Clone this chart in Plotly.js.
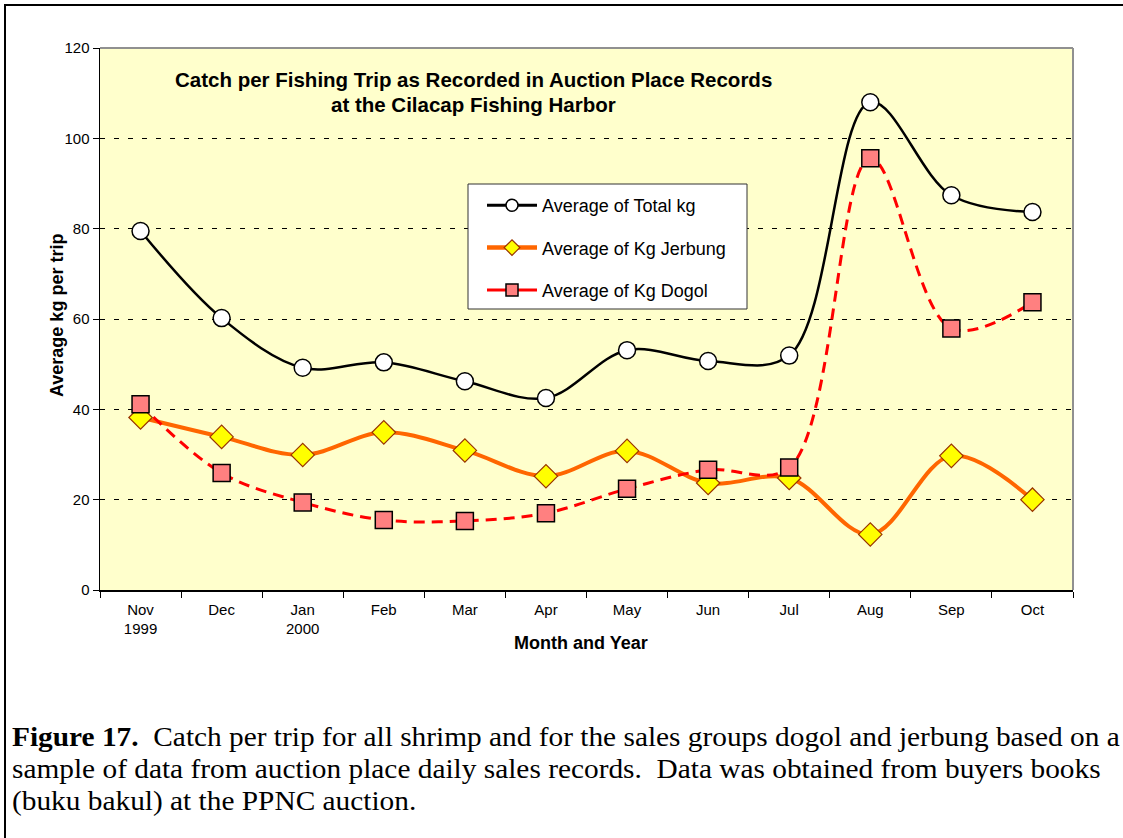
<!DOCTYPE html>
<html>
<head>
<meta charset="utf-8">
<script src="https://cdn.plot.ly/plotly-3.0.1.min.js"></script>
<style>
  html, body { margin: 0; padding: 0; background: #fff; }
  #wrap { position: relative; width: 1123px; height: 838px; overflow: hidden; }
  #frame { position: absolute; left: 4px; top: 4px; width: 1130px; height: 900px;
           border-top: 2px solid #000; border-left: 2px solid #000; pointer-events: none; }
  #chart { position: absolute; left: 0; top: 0; width: 1123px; height: 838px; }
  #caption { position: absolute; left: 12px; top: 721px; width: 1060px;
             font-family: "Liberation Serif", "Times New Roman", serif; font-size: 28px;
             line-height: 32px; color: #000; white-space: nowrap;
             transform: scaleX(1.048); transform-origin: 0 0; }
</style>
</head>
<body>
<div id="wrap">
  <div id="chart"></div>
  <div id="frame"></div>
  <div id="caption"><b>Figure 17.</b>&nbsp; Catch per trip for all shrimp and for the sales groups dogol and jerbung based on a<br>sample of data from auction place daily sales records.&nbsp; Data was obtained from buyers books<br>(buku bakul) at the PPNC auction.</div>
</div>
<script>
const months = ["Nov<br>1999", "Dec", "Jan<br>2000", "Feb", "Mar", "Apr", "May", "Jun", "Jul", "Aug", "Sep", "Oct"];
const totalKg = [79.5, 60.2, 49.2, 50.4, 46.2, 42.5, 53.1, 50.7, 51.9, 108.0, 87.4, 83.7];
const jerbungKg = [38.2, 33.9, 29.9, 34.9, 30.9, 25.2, 30.8, 23.7, 24.8, 12.3, 29.7, 20.0];
const dogolKg = [41.1, 25.9, 19.4, 15.5, 15.3, 17.0, 22.4, 26.6, 27.1, 95.6, 57.9, 63.7];
const yTicks = [0, 20, 40, 60, 80, 100, 120];
const seriesNames = ["Average of Total kg", "Average of Kg Jerbung", "Average of Kg Dogol"];

const font = "Arial, 'Liberation Sans', sans-serif";
const px = v => (v - 100) / 973;   // pixel x -> paper x
const py = v => (590 - v) / 542;   // pixel y -> paper y

const styles = [
  { line: { color: "#000000", width: 2.5, shape: "spline", smoothing: 1 },
    marker: { symbol: "circle", size: 17, color: "#FFFFFF", line: { color: "#000000", width: 1.5 } },
    legLine: { color: "#000000", width: 3 },
    legMarker: { symbol: "circle", size: 12, color: "#FFFFFF", line: { color: "#000000", width: 1.5 } } },
  { line: { color: "#FF6600", width: 4, shape: "spline", smoothing: 1 },
    marker: { symbol: "diamond", size: 18, color: "#FFFF00", line: { color: "#993300", width: 1.2 } },
    legLine: { color: "#FF6600", width: 4.5 },
    legMarker: { symbol: "diamond", size: 12, color: "#FFFF00", line: { color: "#993300", width: 1.2 } } },
  { line: { color: "#FF0000", width: 3, dash: "11px,7px", shape: "spline", smoothing: 1 },
    marker: { symbol: "square", size: 17, color: "#FF8080", line: { color: "#000000", width: 1.5 } },
    legLine: { color: "#FF0000", width: 3 },
    legMarker: { symbol: "square", size: 12, color: "#FF8080", line: { color: "#000000", width: 1.5 } } }
];
const dataSets = [totalKg, jerbungKg, dogolKg];
const groups = ["a", "b", "c"];

const traces = [];
dataSets.forEach((ys, i) => {
  traces.push({
    x: months, y: ys, name: seriesNames[i], type: "scatter", mode: "lines+markers",
    showlegend: false, line: styles[i].line, marker: styles[i].marker
  });
});
dataSets.forEach((ys, i) => {
  traces.push({
    x: [null], y: [null], name: seriesNames[i], type: "scatter", mode: "lines+markers",
    legendgroup: groups[i], showlegend: true,
    line: styles[i].legLine, marker: styles[i].legMarker
  });
});

const layout = {
  width: 1123, height: 838,
  margin: { l: 100, r: 50, t: 48, b: 248 },
  paper_bgcolor: "rgba(0,0,0,0)",
  plot_bgcolor: "#FFFFCC",
  font: { family: font, size: 15, color: "#000" },
  showlegend: true,
  legend: {
    x: px(482), y: py(187), xanchor: "left", yanchor: "top",
    bgcolor: "rgba(0,0,0,0)", borderwidth: 0,
    font: { family: font, size: 18, color: "#000" },
    traceorder: "grouped", tracegroupgap: 16, itemwidth: 50,
    itemclick: false
  },
  xaxis: {
    type: "category", tickson: "boundaries", ticks: "outside", ticklen: 6, tickcolor: "#000",
    showline: true, linecolor: "#000", linewidth: 1.5, showgrid: false, zeroline: false,
    tickfont: { family: font, size: 15, color: "#000" }, ticklabelstandoff: 5,
    range: [-0.5, 11.5]
  },
  yaxis: {
    range: [0, 120], tickvals: yTicks, ticks: "outside", ticklen: 6, tickcolor: "#000",
    showline: true, linecolor: "#000", linewidth: 1.5, zeroline: false,
    showgrid: true, gridcolor: "#000", gridwidth: 1, griddash: "5px,9px",
    tickfont: { family: font, size: 15, color: "#000" }
  },
  shapes: [
    { type: "line", xref: "paper", yref: "paper", x0: 0, x1: 1, y0: 1, y1: 1, line: { color: "#909090", width: 2 } },
    { type: "line", xref: "paper", yref: "paper", x0: 1, x1: 1, y0: 0, y1: 1, line: { color: "#909090", width: 2 } },
    { type: "rect", xref: "paper", yref: "paper", layer: "above",
      x0: px(468), x1: px(747), y0: py(309), y1: py(184),
      fillcolor: "#FFFFFF", line: { color: "#333333", width: 1 } }
  ],
  annotations: [
    { xref: "paper", yref: "paper", x: px(473), y: py(79), xanchor: "center", yanchor: "middle", showarrow: false,
      text: "<b>Catch per Fishing Trip as Recorded in Auction Place Records</b>",
      font: { family: font, size: 20.5, color: "#000" } },
    { xref: "paper", yref: "paper", x: px(473), y: py(104), xanchor: "center", yanchor: "middle", showarrow: false,
      text: "<b>at the Cilacap Fishing Harbor</b>",
      font: { family: font, size: 20.5, color: "#000" } },
    { xref: "paper", yref: "paper", x: px(581), y: py(643), xanchor: "center", yanchor: "middle", showarrow: false,
      text: "<b>Month and Year</b>", font: { family: font, size: 18, color: "#000" } },
    { xref: "paper", yref: "paper", x: px(57), y: py(316), xanchor: "center", yanchor: "middle", showarrow: false,
      textangle: -90, text: "<b>Average kg per trip</b>", font: { family: font, size: 18, color: "#000" } }
  ]
};

Plotly.newPlot("chart", traces, layout, { displayModeBar: false, staticPlot: true });
</script>
</body>
</html>
